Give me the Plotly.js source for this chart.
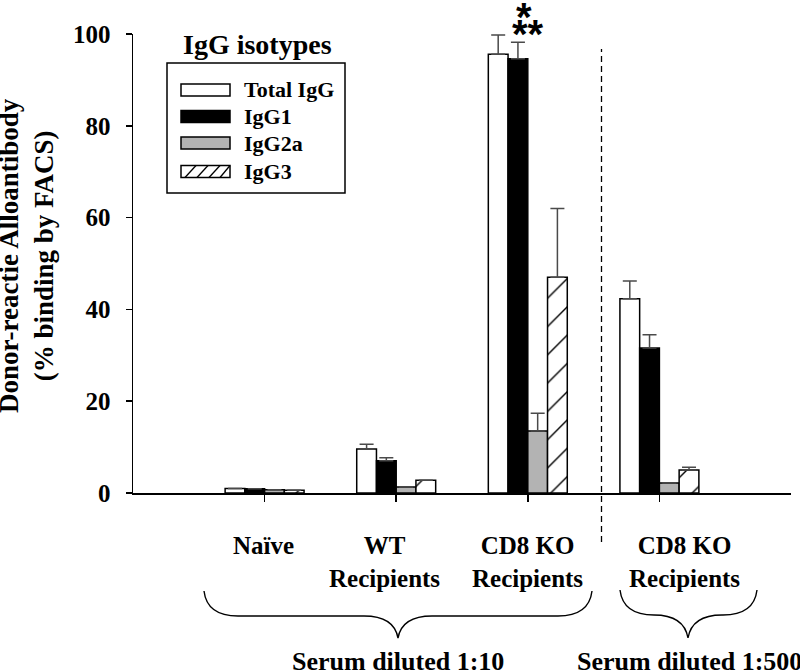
<!DOCTYPE html>
<html>
<head>
<meta charset="utf-8">
<script src="https://cdn.plot.ly/plotly-3.0.1.min.js"></script>
<style>html,body{margin:0;padding:0;background:#fff;}#chart{width:800px;height:671px;}</style>
</head>
<body>
<div id="chart"></div>
<script>
// ---- data ----
const categories = ["Naïve", "WT Recipients", "CD8 KO Recipients (1:10)", "CD8 KO Recipients (1:500)"];
const groupLabels = ["Naïve", "WT<br>Recipients", "CD8 KO<br>Recipients", "CD8 KO<br>Recipients"];
const seriesNames = ["Total IgG", "IgG1", "IgG2a", "IgG3"];
const totalIgG    = [1.0, 9.6, 95.6, 42.3];
const totalIgGErr = [0.0, 1.0, 4.2, 3.9];
const igg1        = [0.9, 7.0, 94.6, 31.6];
const igg1Err     = [0.0, 0.7, 3.6, 2.9];
const igg2a       = [0.7, 1.3, 13.5, 2.2];
const igg2aErr    = [0.0, 0.0, 3.9, 0.0];
const igg3        = [0.6, 2.8, 47.0, 5.0];
const igg3Err     = [0.0, 0.0, 15.0, 0.6];
const yTicks = [0, 20, 40, 60, 80, 100];
const dilutionLabels = ["Serum diluted 1:10", "Serum diluted 1:500"];
const legendTitle = "IgG isotypes";
const yTitle = "Donor-reactie Alloantibody<br>(% binding by FACS)";

// ---- layout helpers (pixel -> paper) ----
const W = 800, H = 671;
const M = {l: 133, r: 9, t: 34, b: 178};
const PW = W - M.l - M.r, PH = H - M.t - M.b;
const px = x => (x - M.l) / PW;
const py = y => (H - M.b - y) / PH;

const FONT = "Liberation Serif, Times New Roman, serif";
const lineStyle = {color: "#000", width: 1.5};
const errStyle = (arr) => ({type: "data", symmetric: false, array: arr,
  arrayminus: arr.map(() => 0), color: "#4a4a4a", thickness: 1.5, width: 7});

const fills = ["#ffffff", "#000000", "#b3b3b3", "#ffffff"];
const values = [totalIgG, igg1, igg2a, igg3];
const errors = [totalIgGErr, igg1Err, igg2aErr, igg3Err];

const traces = seriesNames.map((name, i) => {
  const marker = {color: fills[i], line: lineStyle};
  if (i === 3) marker.pattern = {shape: "/", fgcolor: "#000", bgcolor: "#fff", size: 20, solidity: 0.07, fillmode: "replace"};
  return {type: "bar", name: name, x: categories, y: values[i], marker: marker,
          error_y: errStyle(errors[i]), showlegend: false, hoverinfo: "skip"};
});

const shapes = [];
const annotations = [];

// dashed separator between dilutions
shapes.push({type: "line", xref: "x", yref: "paper", x0: 2.56, x1: 2.56,
  y0: py(542), y1: py(49), line: {color: "#000", width: 1.3, dash: "6px,4px"}});

// braces
function brace(xl, xr, xm, yTop, yMid, yTip) {
  const c = 34;
  return `M${px(xl)},${py(yTop)} Q${px(xl+3)},${py(yMid)} ${px(xl+c)},${py(yMid)} ` +
         `L${px(xm-c)},${py(yMid)} Q${px(xm-4)},${py(yMid)} ${px(xm)},${py(yTip)} ` +
         `Q${px(xm+4)},${py(yMid)} ${px(xm+c)},${py(yMid)} ` +
         `L${px(xr-c)},${py(yMid)} Q${px(xr-3)},${py(yMid)} ${px(xr)},${py(yTop)}`;
}
shapes.push({type: "path", xref: "paper", yref: "paper", path: brace(204, 592, 398, 591, 616, 638), line: {color: "#000", width: 1.4}});
shapes.push({type: "path", xref: "paper", yref: "paper", path: brace(620, 757, 688, 590, 615, 638), line: {color: "#000", width: 1.4}});

// group labels
const labelShift = [-1, -12, 0, 25];
categories.forEach((c, i) => {
  annotations.push({xref: "x", yref: "paper", x: c, y: py(530), xshift: labelShift[i],
    xanchor: "center", yanchor: "top", text: groupLabels[i], showarrow: false,
    font: {family: FONT, size: 25, color: "#000", weight: "bold"}});
});
annotations.push({xref: "paper", yref: "paper", x: px(398), y: py(661), xanchor: "center", yanchor: "middle",
  text: dilutionLabels[0], showarrow: false, font: {family: FONT, size: 26, color: "#000", weight: "bold"}});
annotations.push({xref: "paper", yref: "paper", x: px(689), y: py(661), xanchor: "center", yanchor: "middle",
  text: dilutionLabels[1], showarrow: false, font: {family: FONT, size: 26, color: "#000", weight: "bold"}});

// significance stars
annotations.push({xref: "x", yref: "paper", x: categories[2], xshift: -4, y: py(17), xanchor: "center", yanchor: "middle",
  text: "*", showarrow: false, font: {family: "Liberation Sans, Arial, sans-serif", size: 40, color: "#000", weight: "bold"}});
annotations.push({xref: "x", yref: "paper", x: categories[2], xshift: 0, y: py(34), xanchor: "center", yanchor: "middle",
  text: "**", showarrow: false, font: {family: "Liberation Sans, Arial, sans-serif", size: 40, color: "#000", weight: "bold"}});

// y title
annotations.push({xref: "paper", yref: "paper", x: px(27), y: py(256), xanchor: "center", yanchor: "middle",
  textangle: -90, text: yTitle, showarrow: false, font: {family: FONT, size: 27, color: "#000", weight: "bold"}});

// custom legend
annotations.push({xref: "paper", yref: "paper", x: px(257), y: py(45), xanchor: "center", yanchor: "middle",
  text: legendTitle, showarrow: false, font: {family: FONT, size: 28, color: "#000", weight: "bold"}});
shapes.push({type: "rect", xref: "paper", yref: "paper", x0: px(167), x1: px(345), y0: py(193), y1: py(63),
  line: {color: "#000", width: 1.5}, fillcolor: "rgba(0,0,0,0)"});
const legY = [90, 116.5, 143, 171.5];
seriesNames.forEach((n, i) => {
  const yc = legY[i];
  shapes.push({type: "rect", xref: "paper", yref: "paper", x0: px(181), x1: px(230), y0: py(yc + 6), y1: py(yc - 6),
    fillcolor: fills[i], line: {color: "#000", width: 1.5}});
  if (i === 3) {
    [185, 197, 209, 220].forEach(hx => {
      shapes.push({type: "line", xref: "paper", yref: "paper", x0: px(hx), y0: py(yc + 6), x1: px(Math.min(hx + 11, 230)), y1: py(yc - 6),
        line: {color: "#000", width: 1.3}});
    });
  }
  annotations.push({xref: "paper", yref: "paper", x: px(242), y: py(yc), xanchor: "left", yanchor: "middle",
    text: n, showarrow: false, font: {family: FONT, size: 22, color: "#000", weight: "bold"}});
});

const layout = {
  width: W, height: H,
  margin: M,
  paper_bgcolor: "#fff", plot_bgcolor: "#fff",
  barmode: "group", bargap: 0.4, bargroupgap: 0,
  showlegend: false,
  xaxis: {type: "category", categoryorder: "array", categoryarray: categories, range: [-1, 4],
    showline: true, linecolor: "#000", linewidth: 1.5, ticks: "outside", ticklen: 7, tickwidth: 1.5, tickcolor: "#000",
    showticklabels: false, showgrid: false, zeroline: false, fixedrange: true},
  yaxis: {range: [0, 100], tickmode: "array", tickvals: yTicks, ticktext: yTicks.map(String),
    showline: true, linecolor: "#000", linewidth: 1.5, ticks: "outside", ticklen: 6, tickwidth: 1.5, tickcolor: "#000",
    ticklabelstandoff: 10,
    tickfont: {family: FONT, size: 25, color: "#000", weight: "bold"},
    showgrid: false, zeroline: false, fixedrange: true},
  shapes: shapes,
  annotations: annotations
};

Plotly.newPlot("chart", traces, layout, {staticPlot: true, displayModeBar: false});
</script>
</body>
</html>
